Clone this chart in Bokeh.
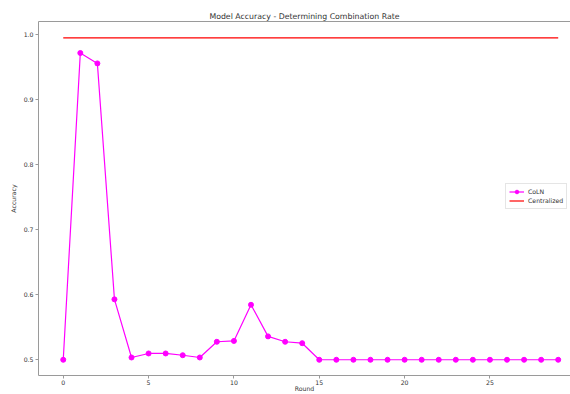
from bokeh.plotting import figure
from bokeh.models import Legend, LegendItem, LinearAxis, FixedTicker, Range1d, NumeralTickFormatter
from bokeh.embed import file_html
from bokeh.resources import INLINE

rounds = list(range(30))
coln = [0.500, 0.972, 0.956, 0.593, 0.5035, 0.5097, 0.5097, 0.507, 0.5035, 0.5277,
        0.529, 0.5846, 0.536, 0.5277, 0.5255] + [0.500] * 15
centralized = [0.9954] * 30
x_ticks = [0, 5, 10, 15, 20, 25]
y_ticks = [0.5, 0.6, 0.7, 0.8, 0.9, 1.0]

FONT = "DejaVu Sans"
GRAY = "#9a9a9a"
TXT = "#333333"

p = figure(width=570, height=394, output_backend="svg", toolbar_location=None,
           x_range=Range1d(-1.45, 29.72), y_range=Range1d(0.4758, 1.0205),
           min_border_left=38, min_border_right=0, min_border_top=21, min_border_bottom=19)
p.title.text = "Model Accuracy - Determining Combination Rate"
p.title.align = "center"
p.title.text_font = FONT
p.title.text_font_size = "7.8px"
p.title.text_font_style = "normal"
p.title.text_color = TXT
p.title.standoff = 1
p.title.offset = 0
p.outline_line_color = None
p.grid.visible = False

for ax in (p.xaxis[0], p.yaxis[0]):
    ax.axis_line_color = GRAY
    ax.major_tick_line_color = GRAY
    ax.minor_tick_line_color = None
    ax.major_tick_out = 3
    ax.major_tick_in = 0
    ax.major_label_text_font = FONT
    ax.major_label_text_font_size = "6.2px"
    ax.major_label_text_color = TXT
    ax.major_label_standoff = 2
    ax.axis_label_text_font = FONT
    ax.axis_label_text_font_size = "6.2px"
    ax.axis_label_text_font_style = "normal"
    ax.axis_label_text_color = TXT
    ax.axis_label_standoff = 4

p.xaxis.axis_label_standoff = -3
p.xaxis.major_label_standoff = 1
p.xaxis.ticker = FixedTicker(ticks=x_ticks)
p.yaxis.ticker = FixedTicker(ticks=y_ticks)
p.yaxis.formatter = NumeralTickFormatter(format="0.0")
p.xaxis.axis_label = "Round"
p.yaxis.axis_label = "Accuracy"

top = LinearAxis(axis_line_color=GRAY, major_tick_line_color=None, minor_tick_line_color=None,
                 ticker=FixedTicker(ticks=[]), major_label_standoff=0)
p.add_layout(top, "above")

l1 = p.line(rounds, coln, line_color="#ff00ff", line_width=1.2)
c1 = p.scatter(rounds, coln, size=5, fill_color="#ff00ff", line_color="#ff00ff")
l2 = p.line(rounds, centralized, line_color="#ff0000", line_width=1.2)

legend = Legend(items=[LegendItem(label="CoLN", renderers=[l1, c1]),
                       LegendItem(label="Centralized", renderers=[l2])],
                location=(467, 166), label_text_font=FONT, label_text_font_size="6.2px",
                label_text_color=TXT, glyph_width=15, glyph_height=9, label_height=9,
                label_standoff=4, spacing=0, padding=3, margin=0,
                border_line_color="#cccccc", background_fill_alpha=1)
p.add_layout(legend, "center")

open("out.html", "w").write(file_html(p, INLINE))
